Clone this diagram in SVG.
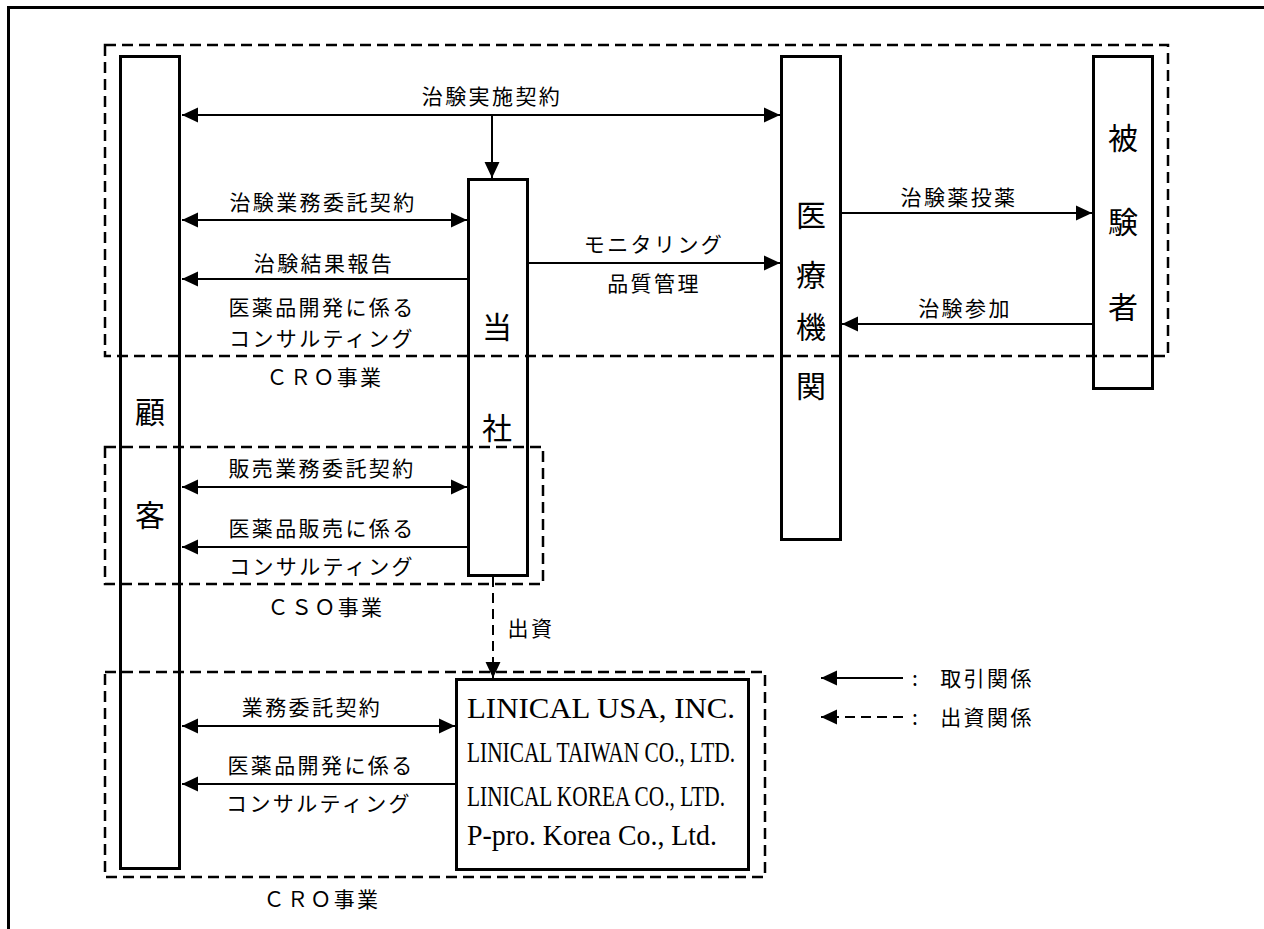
<svg xmlns="http://www.w3.org/2000/svg" width="1264" height="929" viewBox="0 0 1264 929">
<style>
.frame{fill:none;stroke:#000;stroke-width:3}
.box{fill:none;stroke:#000;stroke-width:3}
.dbox{fill:none;stroke:#000;stroke-width:2.5;stroke-dasharray:11 6}
.ln{fill:none;stroke:#000;stroke-width:2}
.dln{fill:none;stroke:#000;stroke-width:2;stroke-dasharray:10 6}
.jp{font-family:"Noto Sans CJK JP","Liberation Serif",serif;font-size:21px;letter-spacing:2.4px;fill:#000;text-anchor:middle}
.big{font-family:"Noto Sans CJK JP","Liberation Serif",serif;font-size:30px;fill:#000;text-anchor:middle}
.en{font-family:"Liberation Serif",serif;font-size:30px;fill:#000}
</style>
<defs>
<marker id="ah" markerUnits="userSpaceOnUse" markerWidth="16" markerHeight="16" viewBox="0 0 15 14" refX="15" refY="7" orient="auto-start-reverse">
<path d="M0,0 L15,7 L0,14 z" fill="#000"/>
</marker>
</defs>
<rect width="1264" height="929" fill="#fff"/>
<path class="frame" d="M8.5,929 V7.5 H1264"/>

<g id="groups">
<rect id="cro-top" class="dbox" x="105" y="45" width="1063" height="311"/>
<rect id="cso" class="dbox" x="105" y="447" width="438" height="137"/>
<rect id="cro-bottom" class="dbox" x="105" y="672" width="660" height="205"/>
<text class="jp" x="325" y="385">ＣＲＯ事業</text>
<text class="jp" x="326" y="615">ＣＳＯ事業</text>
<text class="jp" x="322" y="907">ＣＲＯ事業</text>
</g>

<g id="customer">
<rect class="box" x="120.5" y="56.5" width="59" height="812"/>
<text class="big" x="150" y="423">顧</text>
<text class="big" x="150" y="526">客</text>
</g>

<g id="company">
<rect class="box" x="468.5" y="179.5" width="59" height="396"/>
<text class="big" x="497" y="338">当</text>
<text class="big" x="497" y="439">社</text>
</g>

<g id="institution">
<rect class="box" x="781.5" y="56.5" width="59" height="483"/>
<text class="big" x="811" y="226">医</text>
<text class="big" x="811" y="286">療</text>
<text class="big" x="811" y="338">機</text>
<text class="big" x="811" y="397">関</text>
</g>

<g id="subject">
<rect class="box" x="1093.5" y="56.5" width="59" height="332"/>
<text class="big" x="1123" y="149">被</text>
<text class="big" x="1123" y="233">験</text>
<text class="big" x="1123" y="318">者</text>
</g>

<g id="subsidiaries">
<rect class="box" x="456.5" y="679.5" width="292" height="190"/>
<text class="en" x="467" y="718" textLength="268" lengthAdjust="spacingAndGlyphs">LINICAL USA, INC.</text>
<text class="en" x="467" y="762" textLength="268" lengthAdjust="spacingAndGlyphs">LINICAL TAIWAN CO., LTD.</text>
<text class="en" x="467" y="806" textLength="258" lengthAdjust="spacingAndGlyphs">LINICAL KOREA CO., LTD.</text>
<text class="en" x="467" y="845" font-size="28" textLength="250" lengthAdjust="spacingAndGlyphs">P-pro. Korea Co., Ltd.</text>
</g>

<g id="connectors">
<path class="ln" d="M182,115 H780" marker-start="url(#ah)" marker-end="url(#ah)"/>
<path class="ln" d="M492,115 V178" marker-end="url(#ah)"/>
<path class="ln" d="M182,220 H467" marker-start="url(#ah)" marker-end="url(#ah)"/>
<path class="ln" d="M467,279 H182" marker-end="url(#ah)"/>
<path class="ln" d="M529,263 H780" marker-end="url(#ah)"/>
<path class="ln" d="M842,213 H1092" marker-end="url(#ah)"/>
<path class="ln" d="M1092,324 H842" marker-end="url(#ah)"/>
<path class="ln" d="M182,487 H467" marker-start="url(#ah)" marker-end="url(#ah)"/>
<path class="ln" d="M467,547 H182" marker-end="url(#ah)"/>
<path class="ln" d="M182,726 H455" marker-start="url(#ah)" marker-end="url(#ah)"/>
<path class="ln" d="M455,784 H182" marker-end="url(#ah)"/>
<path class="dln" d="M493,577 V678" marker-end="url(#ah)"/>

<text class="jp" x="492" y="104">治験実施契約</text>
<text class="jp" x="323" y="210">治験業務委託契約</text>
<text class="jp" x="324" y="271">治験結果報告</text>
<text class="jp" x="322" y="315">医薬品開発に係る</text>
<text class="jp" x="322" y="346">コンサルティング</text>
<text class="jp" x="654" y="252">モニタリング</text>
<text class="jp" x="654" y="291">品質管理</text>
<text class="jp" x="959" y="205">治験薬投薬</text>
<text class="jp" x="965" y="316">治験参加</text>
<text class="jp" x="322" y="476">販売業務委託契約</text>
<text class="jp" x="322" y="536">医薬品販売に係る</text>
<text class="jp" x="322" y="574">コンサルティング</text>
<text class="jp" x="531" y="636">出資</text>
<text class="jp" x="312" y="715">業務委託契約</text>
<text class="jp" x="321" y="773">医薬品開発に係る</text>
<text class="jp" x="319" y="811">コンサルティング</text>
</g>

<g id="legend">
<path class="ln" d="M903,678 H821" marker-end="url(#ah)"/>
<path class="dln" d="M903,717 H821" marker-end="url(#ah)"/>
<text class="jp" x="916" y="686">:</text>
<text class="jp" x="987" y="686" letter-spacing="6">取引関係</text>
<text class="jp" x="916" y="725">:</text>
<text class="jp" x="987" y="725" letter-spacing="6">出資関係</text>
</g>
</svg>
